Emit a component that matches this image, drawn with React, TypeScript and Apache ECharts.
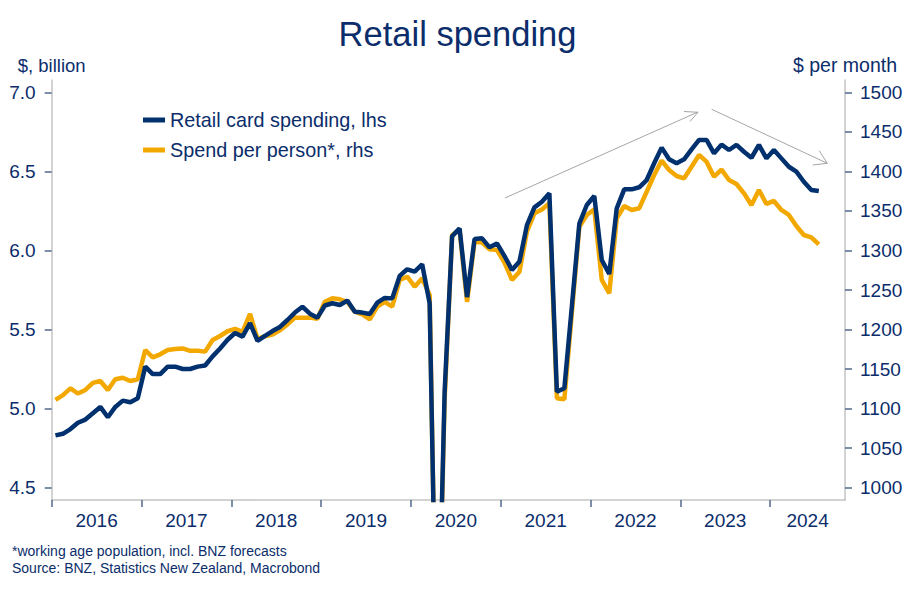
import React, { useEffect, useRef } from "react";
import * as echarts from "echarts";

// Monthly categories Jan 2016 .. Oct 2024 (axis extent)
const months: string[] = [];
for (let y = 2016; y <= 2024; y++) {
  for (let m = 1; m <= 12; m++) {
    if (months.length < 106) months.push(`${y}-${String(m).padStart(2, "0")}`);
  }
}

const yearLabels = ["2016", "2017", "2018", "2019", "2020", "2021", "2022", "2023", "2024"];
const yearLabelPos = [6, 18, 30, 42, 54, 66, 78, 90, 101];
const yearTickPos = [0, 12, 24, 36, 48, 60, 72, 84, 96];

const leftTicks = [4.5, 5.0, 5.5, 6.0, 6.5, 7.0];
const rightTicks = [1000, 1050, 1100, 1150, 1200, 1250, 1300, 1350, 1400, 1450, 1500];

// Retail card spending, $ billion (lhs)
const retailCard = [
  4.83, 4.84, 4.87, 4.91, 4.93, 4.97, 5.01, 4.945, 5.01, 5.05, 5.04, 5.065,
  5.265, 5.218, 5.218, 5.265, 5.265, 5.25, 5.25, 5.265, 5.272, 5.33, 5.38, 5.435,
  5.478, 5.455, 5.54, 5.428, 5.46, 5.49, 5.516, 5.56, 5.607, 5.644, 5.6, 5.575,
  5.652, 5.666, 5.655, 5.683, 5.613, 5.607, 5.598, 5.67, 5.7, 5.697, 5.839, 5.881,
  5.866, 5.913, 5.666, 3.15, 5.1, 6.09, 6.14, 5.705, 6.073, 6.077, 6.02, 6.045,
  5.965, 5.877, 5.93, 6.16, 6.273, 6.309, 6.362, 5.106, 5.128, 5.645, 6.17, 6.288,
  6.345, 5.94, 5.851, 6.267, 6.387, 6.387, 6.4, 6.446, 6.552, 6.651, 6.577, 6.552,
  6.577, 6.64, 6.7, 6.7, 6.615, 6.67, 6.636, 6.668, 6.625, 6.587, 6.668, 6.583,
  6.636, 6.583, 6.53, 6.499, 6.435, 6.383, 6.376,
];

// Spend per person*, $ per month (rhs)
const perPerson = [
  1111, 1117, 1125.5, 1119, 1123.5, 1132.5, 1134.8, 1123.4, 1137, 1139, 1134.8, 1137,
  1174, 1164.8, 1168.6, 1174, 1175.3, 1176, 1173, 1173, 1172, 1186.7, 1191.8, 1197.8,
  1200.8, 1197, 1219.8, 1188, 1191.5, 1193.7, 1199, 1206.4, 1215, 1215, 1215, 1213.5,
  1235.2, 1239.5, 1238.2, 1235, 1222.5, 1219.2, 1212.9, 1228.9, 1235, 1228.9, 1262.7, 1266.8,
  1254.2, 1264.8, 1243.7, 720, 1110, 1319.6, 1326, 1235, 1311, 1310, 1301.5, 1300.6,
  1284.6, 1262.7, 1273.2, 1323.8, 1347, 1352, 1359.7, 1113, 1111.6, 1220.5, 1330, 1345,
  1352, 1262.7, 1245.8, 1340.8, 1356.3, 1351.3, 1353.4, 1374.4, 1395.6, 1413.7, 1401.9, 1394.3,
  1391.4, 1406, 1420.9, 1412.4, 1393.4, 1402.4, 1389.2, 1384.2, 1372.4, 1357.6, 1376.6, 1358.9,
  1362.7, 1351.3, 1345, 1331, 1319.6, 1316.7, 1307.8,
];

const NAVY = "#0b2d6b";
const BLUE = "#00306e";
const ORANGE = "#f3a800";
const AXIS_GRAY = "#c4c4c4";
const TICK = "#52698f";
const FONT = "'Liberation Sans', Arial, sans-serif";

export default function App() {
  const ref = useRef<HTMLDivElement>(null);

  useEffect(() => {
    if (!ref.current) return;
    const chart = echarts.init(ref.current, undefined, { renderer: "svg" });
    const arrowStyle = { stroke: "#a6a6a6", lineWidth: 1, fill: null as any };
    chart.setOption({
      animation: false,
      backgroundColor: "#ffffff",
      textStyle: { fontFamily: FONT },
      title: {
        text: "Retail spending",
        left: "center",
        top: 11,
        textStyle: { fontFamily: FONT, fontSize: 34.5, fontWeight: "normal", color: NAVY },
      },
      legend: {
        data: ["Retail card spending, lhs", "Spend per person*, rhs"],
        orient: "vertical",
        left: 143,
        top: 110,
        padding: 0,
        itemWidth: 22,
        itemHeight: 5,
        itemGap: 10,
        icon: "rect",
        textStyle: { fontFamily: FONT, fontSize: 19.8, color: NAVY },
      },
      grid: { left: 51.7, right: 70, top: 80, bottom: 97, containLabel: false },
      xAxis: [
        {
          type: "category",
          data: months,
          boundaryGap: true,
          axisLine: { show: true, lineStyle: { color: AXIS_GRAY, width: 1.5 } },
          axisTick: { show: false },
          axisLabel: { show: false },
          splitLine: { show: false },
        },
        {
          type: "value",
          min: 0,
          max: 106,
          position: "bottom",
          axisLine: { show: false },
          splitLine: { show: false },
          axisTick: {
            show: true,
            customValues: yearTickPos,
            length: 7,
            lineStyle: { color: TICK, width: 1.5 },
          },
          axisLabel: {
            show: true,
            customValues: yearLabelPos,
            formatter: (v: number) => yearLabels[yearLabelPos.indexOf(Math.round(v))] ?? "",
            fontFamily: FONT,
            fontSize: 19,
            color: NAVY,
            margin: 11,
          },
        },
      ],
      yAxis: [
        {
          type: "value",
          position: "left",
          min: 4.421,
          max: 7.079,
          name: "$, billion",
          nameLocation: "end",
          nameGap: 5,
          nameTextStyle: { fontFamily: FONT, fontSize: 18.5, color: NAVY },
          axisLine: { show: true, lineStyle: { color: AXIS_GRAY, width: 1.5 } },
          axisTick: { show: true, customValues: leftTicks, length: 7, lineStyle: { color: TICK, width: 1.5 } },
          axisLabel: {
            customValues: leftTicks,
            formatter: (v: number) => v.toFixed(1),
            fontFamily: FONT,
            fontSize: 19,
            color: NAVY,
            margin: 16,
          },
          splitLine: { show: false },
        },
        {
          type: "value",
          position: "right",
          min: 984.2,
          max: 1515.8,
          name: "$ per month",
          nameLocation: "end",
          nameGap: 5,
          nameTextStyle: { fontFamily: FONT, fontSize: 19.5, color: NAVY },
          axisLine: { show: true, lineStyle: { color: AXIS_GRAY, width: 1.5 } },
          axisTick: { show: true, customValues: rightTicks, length: 7, lineStyle: { color: TICK, width: 1.5 } },
          axisLabel: {
            customValues: rightTicks,
            formatter: (v: number) => String(Math.round(v)),
            fontFamily: FONT,
            fontSize: 19,
            color: NAVY,
            margin: 15,
          },
          splitLine: { show: false },
        },
      ],
      series: [
        {
          name: "Retail card spending, lhs",
          type: "line",
          xAxisIndex: 0,
          yAxisIndex: 0,
          data: retailCard,
          symbol: "none",
          z: 4,
          clip: true,
          itemStyle: { color: BLUE },
          lineStyle: { color: BLUE, width: 4.5 },
        },
        {
          name: "Spend per person*, rhs",
          type: "line",
          xAxisIndex: 0,
          yAxisIndex: 1,
          data: perPerson,
          symbol: "none",
          z: 3,
          clip: true,
          itemStyle: { color: ORANGE },
          lineStyle: { color: ORANGE, width: 4.5 },
        },
      ],
      graphic: [
        { type: "polyline", shape: { points: [[505, 198], [698, 112]] }, style: arrowStyle, silent: true },
        { type: "polyline", shape: { points: [[684, 111.5], [698, 112.3], [690, 121.5]] }, style: arrowStyle, silent: true },
        { type: "polyline", shape: { points: [[711.7, 109.3], [827.3, 163.3]] }, style: arrowStyle, silent: true },
        { type: "polyline", shape: { points: [[819.3, 150.7], [827.3, 163.3], [812.7, 165]] }, style: arrowStyle, silent: true },
        {
          type: "text",
          left: 12,
          top: 544,
          style: { text: "*working age population, incl. BNZ forecasts", fontFamily: FONT, fontSize: 14, fill: NAVY },
        },
        {
          type: "text",
          left: 12,
          top: 561,
          style: { text: "Source: BNZ, Statistics New Zealand, Macrobond", fontFamily: FONT, fontSize: 14, fill: NAVY },
        },
      ],
    });
    return () => chart.dispose();
  }, []);

  return (
    <div
      ref={ref}
      style={{ position: "fixed", left: 0, top: 0, width: 915, height: 597, background: "#fff" }}
    />
  );
}
